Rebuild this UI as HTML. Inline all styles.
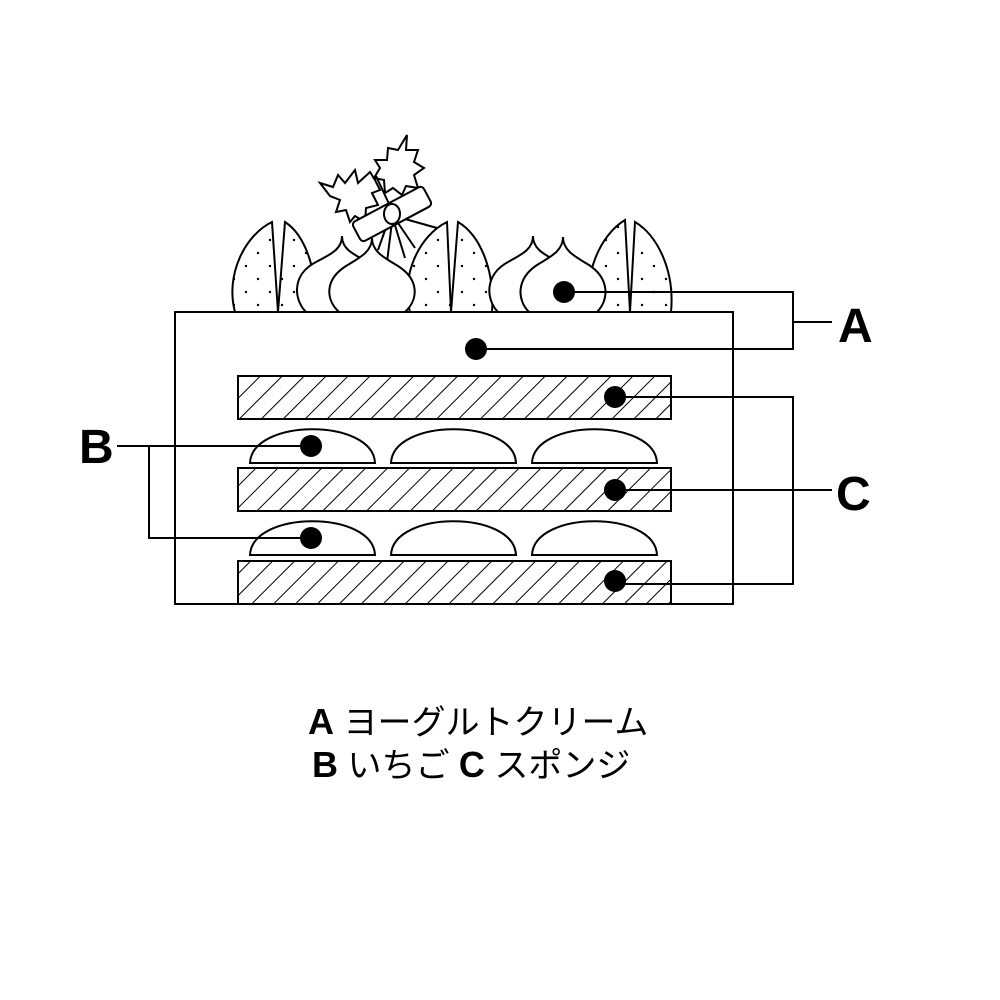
<!DOCTYPE html>
<html><head><meta charset="utf-8"><style>
html,body{margin:0;padding:0;background:#fff}
svg{display:block}
text{font-family:"Liberation Sans","Noto Sans CJK JP",sans-serif}
</style></head><body>
<svg width="1000" height="1000" viewBox="0 0 1000 1000" xmlns="http://www.w3.org/2000/svg">
<defs>
<pattern id="h" patternUnits="userSpaceOnUse" width="15.5" height="15.5" patternTransform="rotate(45)">
<line x1="0" y1="0" x2="0" y2="15.5" stroke="#000" stroke-width="2"/>
</pattern>
<pattern id="d" patternUnits="userSpaceOnUse" width="24" height="26">
<circle cx="6" cy="6" r="1.2" fill="#000"/><circle cx="18" cy="19" r="1.2" fill="#000"/>
</pattern>
</defs>
<g fill="none" stroke="#000" stroke-width="2">
<path d="M320,183 L333,187 L338,175 L345,183 L355,170 L358,183 L370,172 L375,180 L380,190 L372,193 L378,205 L366,208 L365,222 L355,216 L350,222 L346,210 L336,212 L340,200 L330,196 Z" fill="#fff"/>
<path d="M407,135 L406,150 L418,150 L414,162 L424,168 L414,175 L418,188 L406,186 L402,195 L393,188 L385,193 L384,180 L374,178 L380,168 L375,160 L387,160 L388,148 L398,150 Z" fill="#fff"/>
<line x1="376" y1="176" x2="390" y2="206"/>
<line x1="392" y1="222" x2="387" y2="262"/>
<line x1="394" y1="222" x2="405" y2="258"/>
<line x1="396" y1="220" x2="415" y2="248"/>
<line x1="398" y1="217" x2="437" y2="228"/>
<line x1="388" y1="222" x2="378" y2="250"/>
<rect x="352" y="203" width="80" height="22" rx="4" transform="rotate(-28 392 214)" fill="#fff"/>
<ellipse cx="392" cy="214" rx="8" ry="10" fill="#fff"/>
<g fill="url(#d)">
<path d="M272,222 C245,235 225,275 235,312 L278,312 Z"/>
<path d="M285,222 C305,235 318,270 315,312 L278,312 Z"/>
<path d="M447,222 C420,235 400,275 410,312 L451,312 Z"/>
<path d="M458,222 C480,235 495,270 492,312 L451,312 Z"/>
<path d="M625,220 C600,235 583,275 590,312 L630,312 Z"/>
<path d="M635,222 C657,235 675,270 671,312 L630,312 Z"/>
</g>
<path d="M342,236 C342,250 355,255 368,262 C393,275 390,300 378,312 L306,312 C294,300 291,275 316,262 C329,255 342,250 342,236 Z" fill="#fff"/>
<path d="M372,238 C372,252 385,258 398,266 C420,280 418,300 405,312 L339,312 C326,300 324,280 346,266 C359,258 372,252 372,238 Z" fill="#fff"/>
<path d="M533,236 C533,250 546,255 558,262 C582,275 580,300 568,312 L498,312 C486,300 484,275 508,262 C520,255 533,250 533,236 Z" fill="#fff"/>
<path d="M563,237 C563,251 576,257 589,265 C610,279 609,300 597,312 L529,312 C517,300 516,279 537,265 C550,257 563,251 563,237 Z" fill="#fff"/>
<rect x="175" y="312" width="558" height="292" fill="#fff"/>
<rect x="238" y="376" width="433" height="43" fill="url(#h)"/>
<rect x="238" y="468" width="433" height="43" fill="url(#h)"/>
<rect x="238" y="561" width="433" height="43" fill="url(#h)"/>
<path d="M250,463 C252,418 373,418 375,463 Z"/>
<path d="M391,463 C393,418 514,418 516,463 Z"/>
<path d="M532,463 C534,418 655,418 657,463 Z"/>
<path d="M250,555 C252,510 373,510 375,555 Z"/>
<path d="M391,555 C393,510 514,510 516,555 Z"/>
<path d="M532,555 C534,510 655,510 657,555 Z"/>
<polyline points="564,292 793,292 793,349 476,349"/>
<line x1="793" y1="322" x2="832" y2="322"/>
<polyline points="615,397 793,397 793,584 615,584"/>
<line x1="615" y1="490" x2="832" y2="490"/>
<polyline points="117,446 311,446"/>
<polyline points="149,446 149,538 311,538"/>
</g>
<g fill="#000">
<circle cx="564" cy="292" r="11"/><circle cx="476" cy="349" r="11"/>
<circle cx="615" cy="397" r="11"/><circle cx="615" cy="490" r="11"/><circle cx="615" cy="581" r="11"/>
<circle cx="311" cy="446" r="11"/><circle cx="311" cy="538" r="11"/>
</g>
<g font-weight="bold" font-size="48">
<text x="838" y="342">A</text>
<text x="836" y="510">C</text>
<text x="79" y="463">B</text>
</g>
<g font-size="34">
<text x="308" y="734"><tspan font-weight="bold" font-size="36">A</tspan> ヨーグルトクリーム</text>
<text x="312" y="777"><tspan font-weight="bold" font-size="36">B</tspan> いちご <tspan font-weight="bold" font-size="36">C</tspan> スポンジ</text>
</g>
</svg>
</body></html>
